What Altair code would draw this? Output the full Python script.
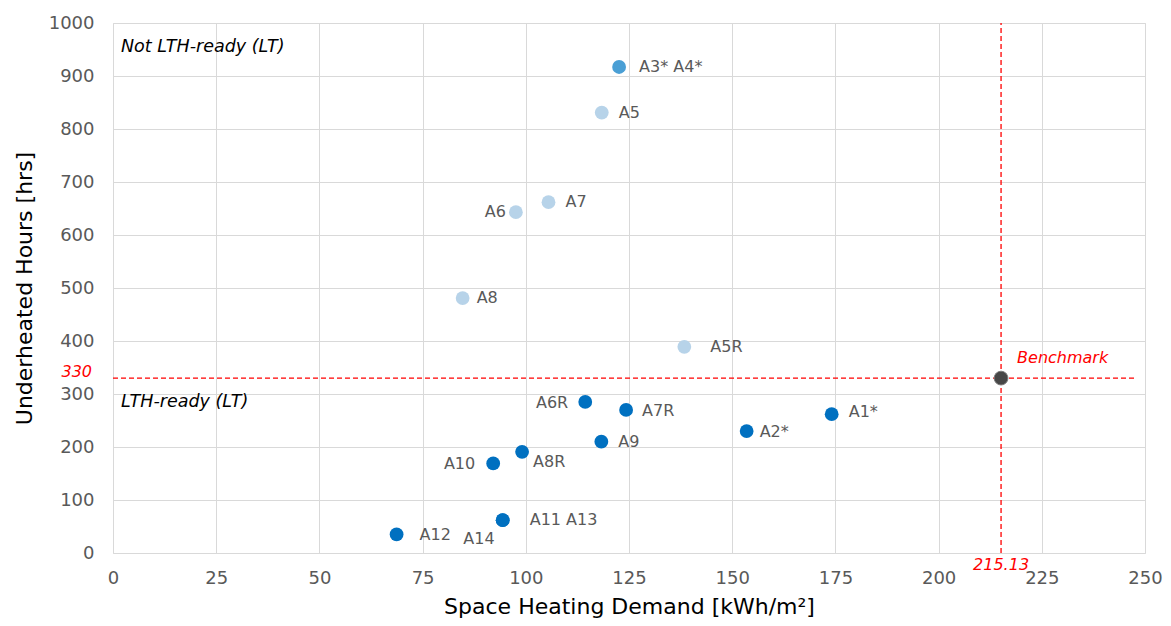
import altair as alt
import pandas as pd

# ---- data ----
names = ["A1*", "A2*", "A3* A4*", "A5", "A5R", "A6", "A6R", "A7", "A7R",
         "A8", "A8R", "A9", "A10", "A11 A13", "A12", "A14"]
demand = [174.1, 153.5, 122.6, 118.4, 138.4, 97.6, 114.4, 105.5, 124.3,
          84.7, 99.1, 118.3, 92.1, 94.4, 68.7, 94.4]
hours = [262, 230, 917, 831, 389, 643, 285, 662, 270,
         481, 191, 210, 169, 62, 35, 62]
groups = ["LTH-ready", "LTH-ready", "Mixed", "Not LTH-ready", "Not LTH-ready",
          "Not LTH-ready", "LTH-ready", "Not LTH-ready", "LTH-ready",
          "Not LTH-ready", "LTH-ready", "LTH-ready", "LTH-ready", "LTH-ready",
          "LTH-ready", "LTH-ready"]

bench_x = [215.13]
bench_y = [330]
bench_label = ["Benchmark"]

x_ticks = [0, 25, 50, 75, 100, 125, 150, 175, 200, 225, 250]
y_ticks = [0, 100, 200, 300, 400, 500, 600, 700, 800, 900, 1000]

zone_labels = ["Not LTH-ready (LT)", "LTH-ready (LT)"]
zone_x = [0, 0]
zone_y = [1000, 330]

df = pd.DataFrame({"name": names, "x": demand, "y": hours, "group": groups})
bench = pd.DataFrame({"name": bench_label, "x": bench_x, "y": bench_y})
rules = pd.DataFrame({"x": [0, bench_x[0]], "x2": [248, bench_x[0]],
                      "y": [bench_y[0], 0], "y2": [bench_y[0], 1000]})
zones = pd.DataFrame({"label": zone_labels, "x": zone_x, "y": zone_y})

FONT = "DejaVu Sans"
RED = "#ff0000"

xscale = alt.Scale(domain=[0, 250], nice=False, zero=False)
yscale = alt.Scale(domain=[0, 1000], nice=False, zero=False)

xenc = alt.X("x:Q", scale=xscale, axis=alt.Axis(
    values=x_ticks, format="d", title="Space Heating Demand [kWh/m²]", grid=True,
    gridColor="#d9d9d9", gridWidth=1, domain=False, ticks=False,
    labelPadding=16, labelFontSize=18, labelColor="#595959", labelFont=FONT,
    labelFlush=False, labelOverlap=False,
    titleFontSize=22, titleFontWeight="normal", titleColor="#000000",
    titleFont=FONT, titlePadding=9))
yenc = alt.Y("y:Q", scale=yscale, axis=alt.Axis(
    values=y_ticks, format="d", title="Underheated Hours [hrs]", grid=True,
    gridColor="#d9d9d9", gridWidth=1, domain=False, ticks=False,
    labelPadding=19, labelFontSize=18, labelColor="#595959", labelFont=FONT,
    labelFlush=False, labelOverlap=False,
    titleFontSize=22, titleFontWeight="normal", titleColor="#000000",
    titleFont=FONT, titlePadding=12))

rule_layer = alt.Chart(rules).mark_rule(
    color=RED, strokeDash=[5, 3], strokeWidth=1.3
).encode(x=xenc, x2="x2:Q", y=yenc, y2="y2:Q")

points = alt.Chart(df).mark_circle(size=190, opacity=1).encode(
    x=xenc, y=yenc,
    color=alt.Color("group:N", legend=None, scale=alt.Scale(
        domain=["LTH-ready", "Not LTH-ready", "Mixed"],
        range=["#0070c0", "#b7d3e9", "#4a9fd5"])))

bench_pt = alt.Chart(bench).mark_circle(
    size=190, opacity=1, color="#474747", stroke="#7a7a7a", strokeWidth=1
).encode(x=xenc, y=yenc)

# label offsets (style, not data)
offsets = {
    "A1*": (17, -2, "left"), "A2*": (13, 1, "left"), "A3* A4*": (20, 0, "left"),
    "A5": (17, 0, "left"), "A5R": (26, 0, "left"), "A6": (-10, 0, "right"),
    "A6R": (-17, 1, "right"), "A7": (17, 0, "left"), "A7R": (16, 1, "left"),
    "A8": (14, 0, "left"), "A8R": (11, 10, "left"), "A9": (17, 0, "left"),
    "A10": (-18, 1, "right"), "A11 A13": (27, 0, "left"), "A12": (23, 1, "left"),
    "A14": (-8, 19, "right"),
}

layers = [rule_layer, points, bench_pt]
for n in names:
    dx, dy, al = offsets[n]
    layers.append(
        alt.Chart(df).transform_filter(alt.datum.name == n).mark_text(
            dx=dx, dy=dy, align=al, baseline="middle", fontSize=16,
            font=FONT, color="#595959"
        ).encode(x=xenc, y=yenc, text="name:N"))

bench_text = alt.Chart(bench).mark_text(
    dx=16, dy=-20, align="left", baseline="middle", fontSize=16, font=FONT,
    fontStyle="italic", color=RED).encode(x=xenc, y=yenc, text="name:N")
layers.append(bench_text)

# benchmark values on axes
bench_yval = alt.Chart(bench).transform_calculate(
    lbl="format(datum.y, 'd')").transform_calculate(x="0").mark_text(
    dx=-21, dy=-6, align="right", baseline="middle", fontSize=16, font=FONT,
    fontStyle="italic", color=RED).encode(x=xenc, y=yenc, text="lbl:N")
bench_xval = alt.Chart(bench).transform_calculate(
    lbl="format(datum.x, '.2f')").transform_calculate(y="0").mark_text(
    dy=12, align="center", baseline="middle", fontSize=16, font=FONT,
    fontStyle="italic", color=RED).encode(x=xenc, y=yenc, text="lbl:N")
layers += [bench_yval, bench_xval]

zone_text = alt.Chart(zones).mark_text(
    dx=8, dy=24, align="left", baseline="middle", fontSize=17.5, font=FONT,
    fontStyle="italic", color="#000000").encode(x=xenc, y=yenc, text="label:N")
layers.append(zone_text)

chart = alt.layer(*layers).properties(
    width=1032, height=530,
    autosize=alt.AutoSizeParams(type="none"),
    padding={"left": 105, "top": 15, "right": 18, "bottom": 72},
).configure_view(stroke=None).configure(background="white")

chart.save("out.html", embed_options={"renderer": "svg", "actions": False})
